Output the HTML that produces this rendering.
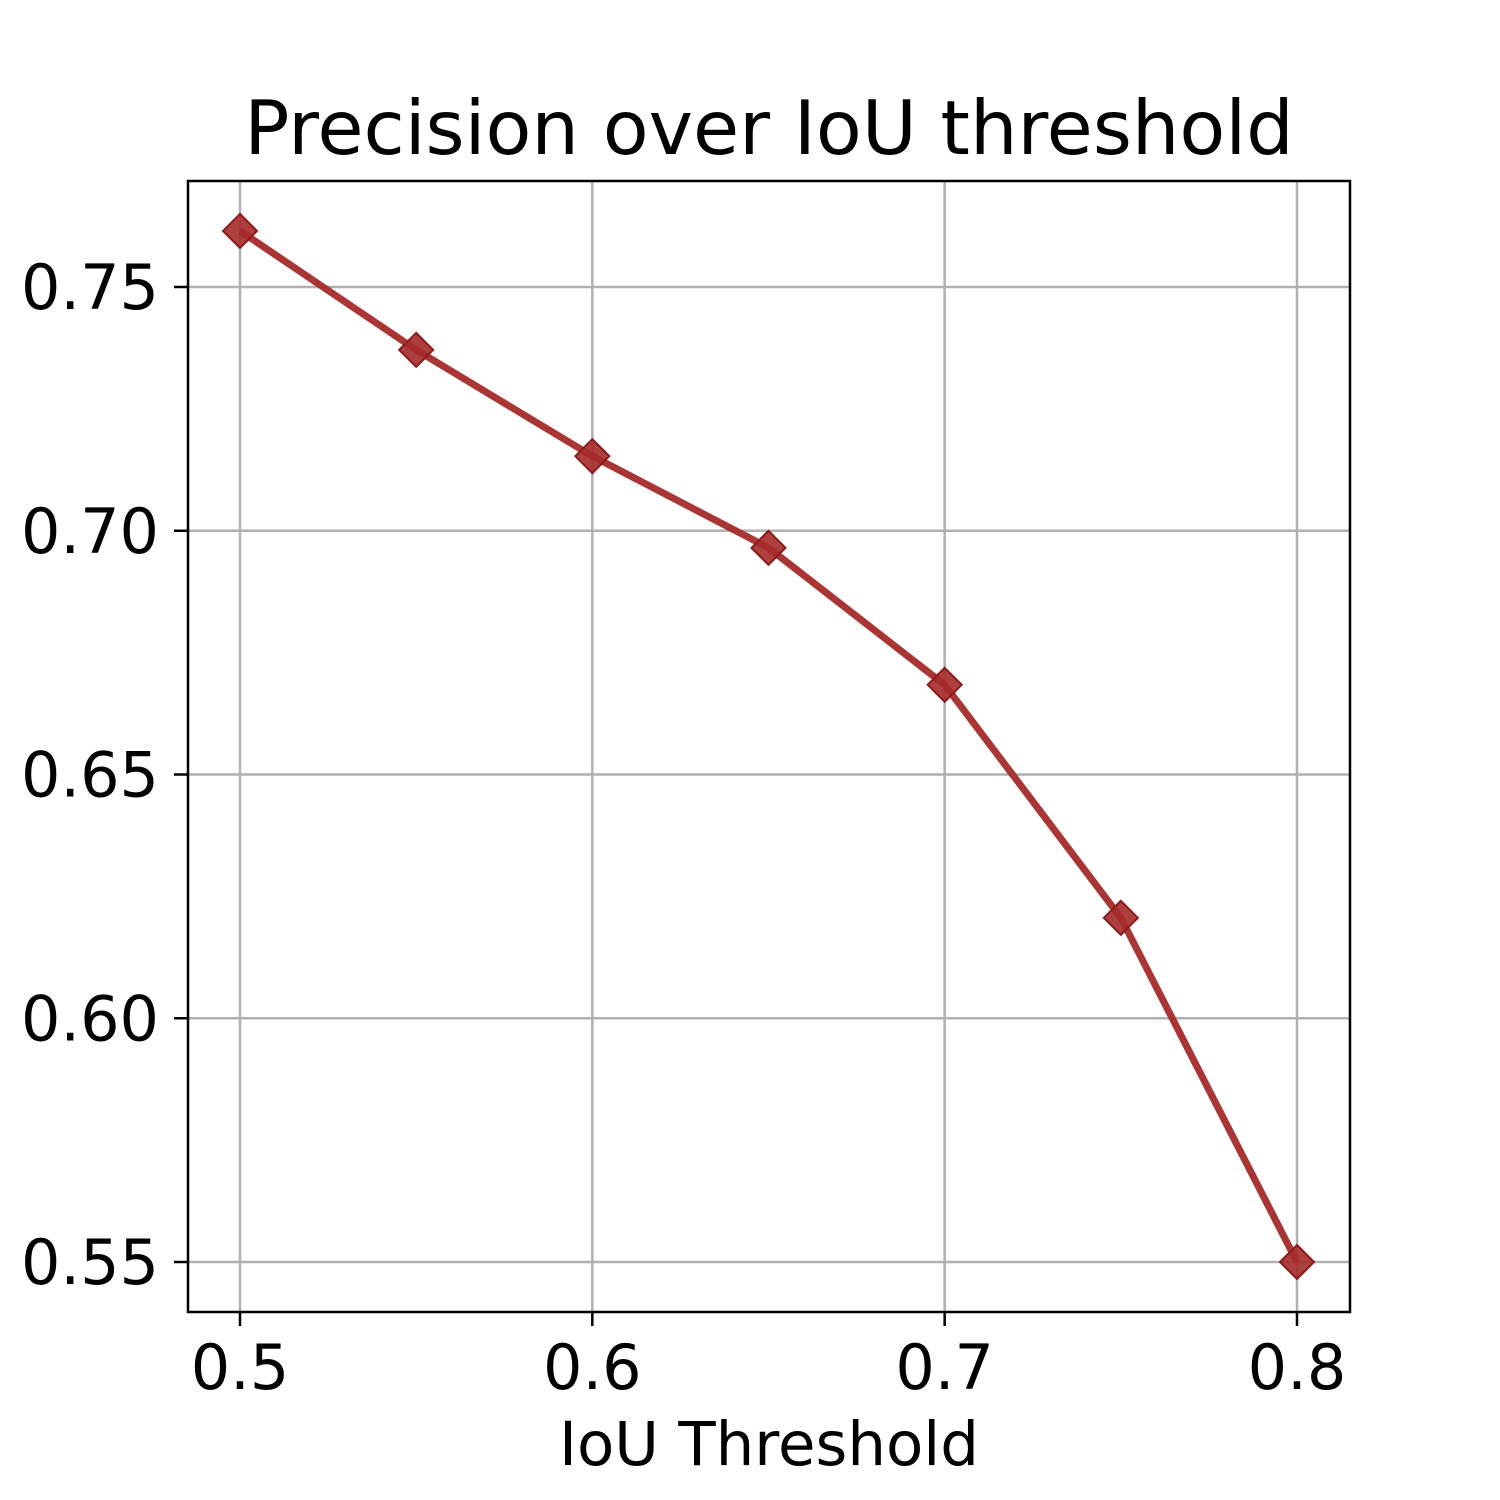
<!DOCTYPE html>
<html><head><meta charset="utf-8"><style>
html,body{margin:0;padding:0;background:#fff;}
svg{display:block;font-family:"DejaVu Sans","Liberation Sans",sans-serif;}
</style></head><body>
<svg id="chart" width="1500" height="1500" viewBox="0 0 1500 1500">
<rect x="0" y="0" width="1500" height="1500" fill="#fff"/>
<g id="grid"></g>
<g id="ticks"></g>
<g id="series"></g>
<rect x="188" y="181" width="1162" height="1131" fill="none" stroke="#000" stroke-width="2.5"/>
<text x="769" y="154" font-size="75" text-anchor="middle">Precision over IoU threshold</text>
<text x="769" y="1465" font-size="61" text-anchor="middle">IoU Threshold</text>
</svg>
<script>
const xValues = [0.5, 0.55, 0.6, 0.65, 0.7, 0.75, 0.8];
const precision = [0.7615, 0.7371, 0.7153, 0.6965, 0.6684, 0.6206, 0.55];
const xTicks = [0.5, 0.6, 0.7, 0.8];
const xTickLabels = ["0.5", "0.6", "0.7", "0.8"];
const yTicks = [0.55, 0.60, 0.65, 0.70, 0.75];
const yTickLabels = ["0.55", "0.60", "0.65", "0.70", "0.75"];

const NS = "http://www.w3.org/2000/svg";
function xs(v){ return 240 + (v - 0.5) * 3523.3; }
function ys(v){ return 287 + (0.75 - v) * 4875; }
function mk(tag, attrs, parent){
  const e = document.createElementNS(NS, tag);
  for (const k in attrs) e.setAttribute(k, attrs[k]);
  parent.appendChild(e); return e;
}
const grid = document.getElementById('grid');
const ticks = document.getElementById('ticks');
const series = document.getElementById('series');

xTicks.forEach((t, i) => {
  const X = xs(t);
  const g = mk('line', {x1: X, x2: X, y1: 181, y2: 1312, stroke: '#b0b0b0', 'stroke-width': 2.5}, grid);
  
  
  const tk = mk('line', {x1: X, x2: X, y1: 1312, y2: 1326, stroke: '#000', 'stroke-width': 2.5}, ticks);
  
  
  const tx = mk('text', {x: X, y: 1389, 'font-size': 62, 'text-anchor': 'middle'}, ticks);
  tx.textContent = xTickLabels[i];
  
  
});
yTicks.forEach((t, i) => {
  const Y = ys(t);
  const g = mk('line', {x1: 188, x2: 1350, y1: Y, y2: Y, stroke: '#b0b0b0', 'stroke-width': 2.5}, grid);
  
  
  const tk = mk('line', {x1: 174, x2: 188, y1: Y, y2: Y, stroke: '#000', 'stroke-width': 2.5}, ticks);
  
  
  const tx = mk('text', {x: 159, y: Y + 22, 'font-size': 62, 'text-anchor': 'end'}, ticks);
  tx.textContent = yTickLabels[i];
  
  
});
const pts = xValues.map((v, i) => xs(v) + ',' + ys(precision[i])).join(' ');
const line = mk('polyline', {points: pts, fill: 'none', stroke: '#a52a2a', 'stroke-opacity': 0.95, 'stroke-width': 7, 'stroke-linejoin': 'round'}, series);


xValues.forEach((v, i) => {
  const X = xs(v), Y = ys(precision[i]), r = 17;
  const d = mk('polygon', {points: `${X},${Y-r} ${X+r},${Y} ${X},${Y+r} ${X-r},${Y}`, fill: '#a52a2a', 'fill-opacity': 0.9, stroke: '#8b1a1a', 'stroke-width': 2}, series);
  
  
});
</script>
</body></html>
